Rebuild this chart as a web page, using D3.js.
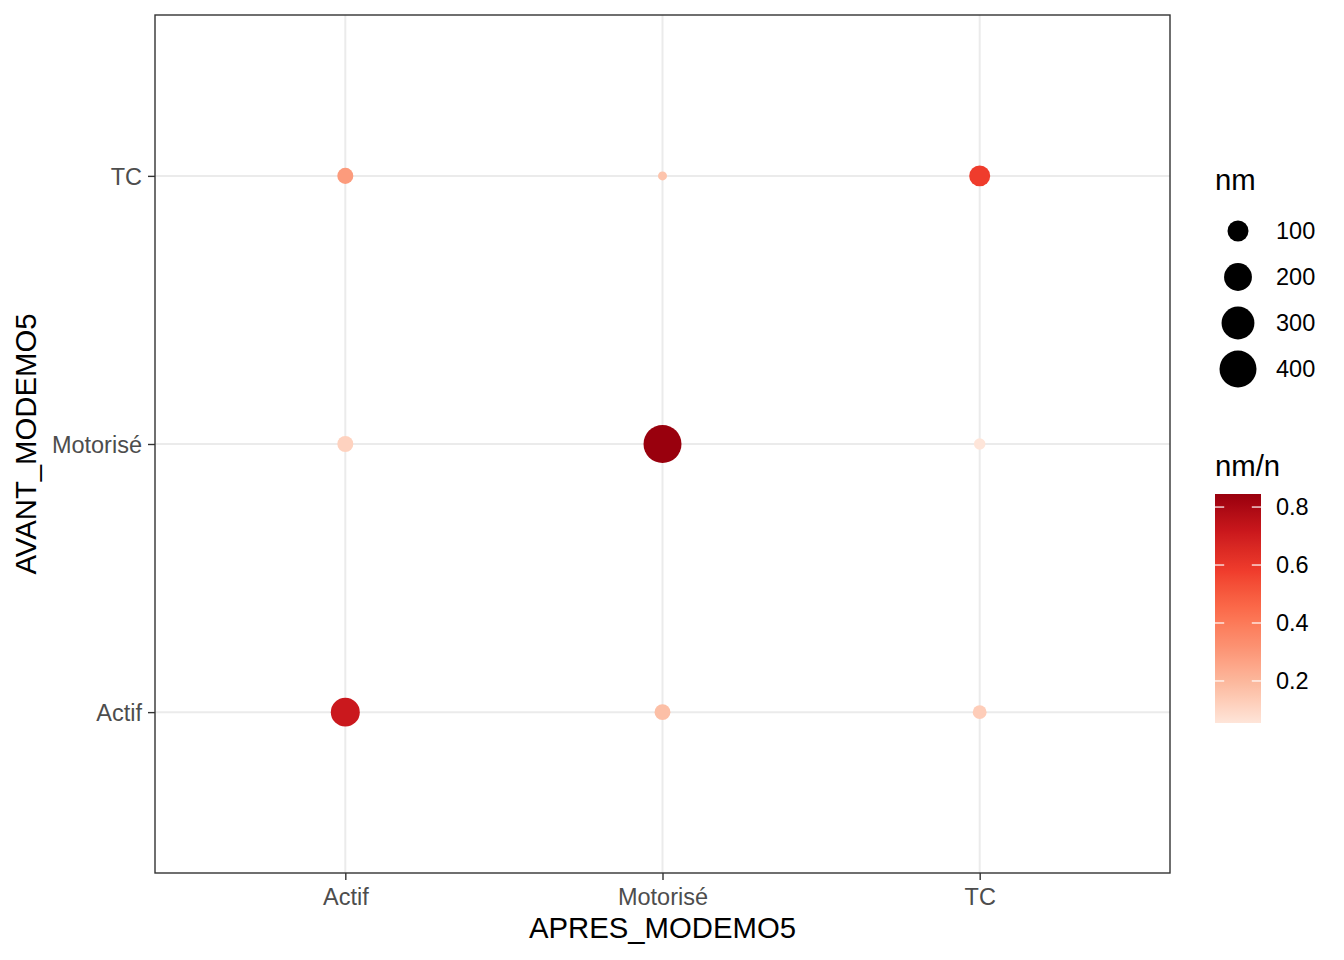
<!DOCTYPE html>
<html>
<head>
<meta charset="utf-8">
<script src="https://cdn.jsdelivr.net/npm/d3@7"></script>
<style>
  html, body { margin: 0; padding: 0; background: #ffffff; }
  text { font-family: "Liberation Sans", Arial, sans-serif; }
</style>
</head>
<body>
<svg id="chart" width="1344" height="960"></svg>
<script>
// ---- data ----
const categories = ["Actif", "Motorisé", "TC"];
const apres = ["Actif", "Motorisé", "TC", "Actif", "Motorisé", "TC", "Actif", "Motorisé", "TC"];
const avant = ["Actif", "Actif", "Actif", "Motorisé", "Motorisé", "Motorisé", "TC", "TC", "TC"];
const nmValues = [220, 55, 44, 56, 427, 36, 56, 33, 100];
const ratioValues = [0.715, 0.175, 0.13, 0.115, 0.845, 0.055, 0.29, 0.16, 0.58];
const sizeBreaks = [100, 200, 300, 400];
const colorBreaks = [0.2, 0.4, 0.6, 0.8];
const reds7 = ["#FEE5D9", "#FCBBA1", "#FC9272", "#FB6A4A", "#EF3B2C", "#CB181D", "#99000D"];
const xTitle = "APRES_MODEMO5";
const yTitle = "AVANT_MODEMO5";
const sizeTitle = "nm";
const colorTitle = "nm/n";

const data = apres.map((a, i) => ({ x: a, y: avant[i], nm: nmValues[i], r: ratioValues[i] }));

const svg = d3.select("#chart");
const P = { left: 155, right: 1170, top: 15, bottom: 873 };

const x = d3.scalePoint().domain(categories).range([P.left, P.right]).padding(0.6);
const y = d3.scalePoint().domain(categories).range([P.bottom, P.top]).padding(0.6);

// size scale (ggplot area-style): diameter from ~9px to ~38px
const nmExt = d3.extent(nmValues);
const rScale = d3.scaleSqrt().domain([0, nmExt[1] - nmExt[0]]).range([4.5, 19]);
const radius = v => rScale(Math.max(0, v - nmExt[0]));

// colour scale (Reds distiller, Lab interpolation)
const cExt = d3.extent(ratioValues);
const color = d3.scaleLinear()
  .domain(d3.range(7).map(i => cExt[0] + i * (cExt[1] - cExt[0]) / 6))
  .range(reds7)
  .interpolate(d3.interpolateLab);

// panel background
svg.append("rect").attr("x", P.left).attr("y", P.top)
  .attr("width", P.right - P.left).attr("height", P.bottom - P.top)
  .attr("fill", "#ffffff");

// grid lines
const grid = svg.append("g");
categories.forEach(c => {
  grid.append("line").attr("x1", x(c)).attr("x2", x(c)).attr("y1", P.top).attr("y2", P.bottom)
    .attr("stroke", "#EBEBEB").attr("stroke-width", 2);
  grid.append("line").attr("y1", y(c)).attr("y2", y(c)).attr("x1", P.left).attr("x2", P.right)
    .attr("stroke", "#EBEBEB").attr("stroke-width", 2);
});

// points
svg.append("g").selectAll("circle").data(data).join("circle")
  .attr("cx", d => x(d.x)).attr("cy", d => y(d.y))
  .attr("r", d => radius(d.nm))
  .attr("fill", d => color(d.r));

// panel border
svg.append("rect").attr("x", P.left).attr("y", P.top)
  .attr("width", P.right - P.left).attr("height", P.bottom - P.top)
  .attr("fill", "none").attr("stroke", "#333333").attr("stroke-width", 1.4);

// axes
const xAxis = d3.axisBottom(x).tickSize(7).tickPadding(7);
const gx = svg.append("g").attr("transform", `translate(0,${P.bottom})`).call(xAxis);
gx.select(".domain").remove();
gx.selectAll(".tick line").attr("stroke", "#333333").attr("stroke-width", 1.4);
gx.selectAll(".tick text").attr("fill", "#4D4D4D").style("font-size", "23.5px")
  .attr("dy", "0.75em");

const yAxis = d3.axisLeft(y).tickSize(7).tickPadding(6);
const gy = svg.append("g").attr("transform", `translate(${P.left},0)`).call(yAxis);
gy.select(".domain").remove();
gy.selectAll(".tick line").attr("stroke", "#333333").attr("stroke-width", 1.4);
gy.selectAll(".tick text").attr("fill", "#4D4D4D").style("font-size", "23.5px")
  .attr("dy", "0.35em");

// axis titles
svg.append("text").attr("x", (P.left + P.right) / 2).attr("y", 938)
  .attr("text-anchor", "middle").style("font-size", "29.3px").attr("fill", "#000")
  .text(xTitle);
svg.append("text").attr("transform", `translate(36,${(P.top + P.bottom) / 2}) rotate(-90)`)
  .attr("text-anchor", "middle").style("font-size", "29.3px").attr("fill", "#000")
  .text(yTitle);

// size legend
const sl = svg.append("g");
sl.append("text").attr("x", 1215).attr("y", 190).style("font-size", "29.3px").text(sizeTitle);
sizeBreaks.forEach((b, i) => {
  const cy = 231 + i * 46;
  sl.append("circle").attr("cx", 1238).attr("cy", cy).attr("r", radius(b)).attr("fill", "#000");
  sl.append("text").attr("x", 1276).attr("y", cy).attr("dy", "0.35em")
    .style("font-size", "23.5px").text(b);
});

// colour legend
const cl = svg.append("g");
cl.append("text").attr("x", 1215).attr("y", 476).style("font-size", "29.3px").text(colorTitle);
const bar = { x: 1215, y: 494, w: 46, h: 229 };
const defs = svg.append("defs");
const grad = defs.append("linearGradient").attr("id", "cgrad")
  .attr("x1", 0).attr("x2", 0).attr("y1", 1).attr("y2", 0);
d3.range(0, 1.0001, 0.02).forEach(t => {
  grad.append("stop").attr("offset", t)
    .attr("stop-color", color(cExt[0] + t * (cExt[1] - cExt[0])));
});
cl.append("rect").attr("x", bar.x).attr("y", bar.y).attr("width", bar.w).attr("height", bar.h)
  .attr("fill", "url(#cgrad)");
const cy = d3.scaleLinear().domain(cExt).range([bar.y + bar.h, bar.y]);
colorBreaks.forEach(b => {
  const yy = cy(b);
  cl.append("line").attr("x1", bar.x).attr("x2", bar.x + 9.2).attr("y1", yy).attr("y2", yy)
    .attr("stroke", "#ffffff").attr("stroke-width", 1.2);
  cl.append("line").attr("x1", bar.x + bar.w - 9.2).attr("x2", bar.x + bar.w).attr("y1", yy).attr("y2", yy)
    .attr("stroke", "#ffffff").attr("stroke-width", 1.2);
  cl.append("text").attr("x", 1276).attr("y", yy).attr("dy", "0.35em")
    .style("font-size", "23.5px").text(b.toFixed(1));
});
</script>
</body>
</html>
